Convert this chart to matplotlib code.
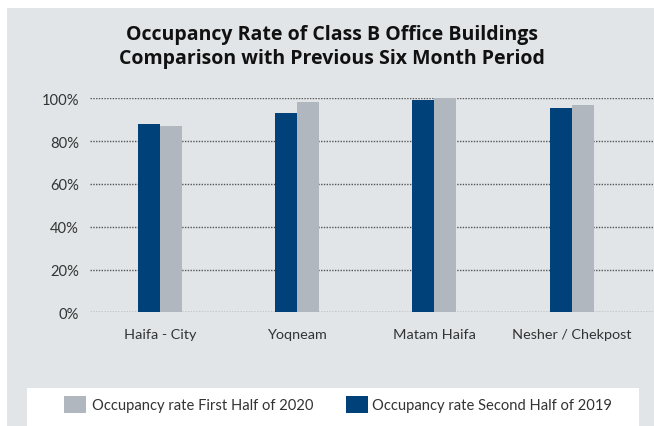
import matplotlib
matplotlib.use("Agg")
import matplotlib.pyplot as plt
from matplotlib.patches import Rectangle
import numpy as np

categories = ["Haifa - City", "Yoqneam", "Matam Haifa", "Nesher / Chekpost"]
second_half_2019 = [88.0, 93.1, 99.2, 95.5]
first_half_2020 = [87.1, 98.3, 100.0, 96.9]
yticks = [0, 20, 40, 60, 80, 100]
ytick_labels = ["0%", "20%", "40%", "60%", "80%", "100%"]
title = "Occupancy Rate of Class B Office Buildings\nComparison with Previous Six Month Period"
label_2020 = "Occupancy rate First Half of 2020"
label_2019 = "Occupancy rate Second Half of 2019"

W, H = 654, 427
BG = "#e1e5e8"
DARK = "#00417a"
GRAY = "#b0b7bf"
plt.rcParams['font.family'] = ['Lato', 'DejaVu Sans']

fig = plt.figure(figsize=(W / 100, H / 100), dpi=100)
fig.patch.set_facecolor("white")
# gray panel
fig.patches.append(Rectangle((7 / W, 0), 1 - 7 / W, 1 - 9 / H, transform=fig.transFigure,
                             facecolor=BG, edgecolor="none", zorder=-2))
# white legend box
fig.patches.append(Rectangle((27 / W, 0), (639 - 27) / W, (H - 389) / H, transform=fig.transFigure,
                             facecolor="white", edgecolor="none", zorder=-1))

ax_left, ax_right = 90, 654
ax_top, ax_bot = 99.3, 313.3
ax = fig.add_axes([ax_left / W, 1 - ax_bot / H, (ax_right - ax_left) / W, (ax_bot - ax_top) / H])
ax.set_zorder(5)
ax.set_facecolor("none")
x = np.arange(len(categories))
bw = 0.16
ax.bar(x - bw / 2, second_half_2019, width=bw, color=DARK, zorder=3)
ax.bar(x + bw / 2, first_half_2020, width=bw, color=GRAY, zorder=3)
ax.set_ylim(0, 100)
ax.set_xlim(-0.51, 3.6)
ax.set_yticks(yticks)
ax.set_yticklabels(ytick_labels, fontsize=10.6, color="#333333")
ax.set_xticks(x)
ax.set_xticklabels(categories, fontsize=10.4, color="#333333")
ax.tick_params(axis="both", length=0)
ax.tick_params(axis="y", pad=8)
ax.tick_params(axis="x", pad=11)
for s in ax.spines.values():
    s.set_visible(False)
ax.set_axisbelow(True)
ax.yaxis.grid(True, linestyle=(0, (1, 1)), color="#555555", linewidth=1.0)

fig.text(332 / W, 1 - 47 / H, title, ha="center", va="center", fontsize=14,
         fontweight="bold", color="#111111", linespacing=1.3, family=["Open Sans", "DejaVu Sans"])

# legend
fig.patches.append(Rectangle((64 / W, 1 - 414 / H), 22 / W, 17 / H, transform=fig.transFigure,
                             facecolor=GRAY, edgecolor="none", zorder=2))
fig.text(92 / W, 1 - 406 / H, label_2020, ha="left", va="center", fontsize=10.6, color="#333333")
fig.patches.append(Rectangle((346 / W, 1 - 414 / H), 22 / W, 17 / H, transform=fig.transFigure,
                             facecolor=DARK, edgecolor="none", zorder=2))
fig.text(372 / W, 1 - 406 / H, label_2019, ha="left", va="center", fontsize=10.6, color="#333333")

fig.savefig("out.png", dpi=100)
